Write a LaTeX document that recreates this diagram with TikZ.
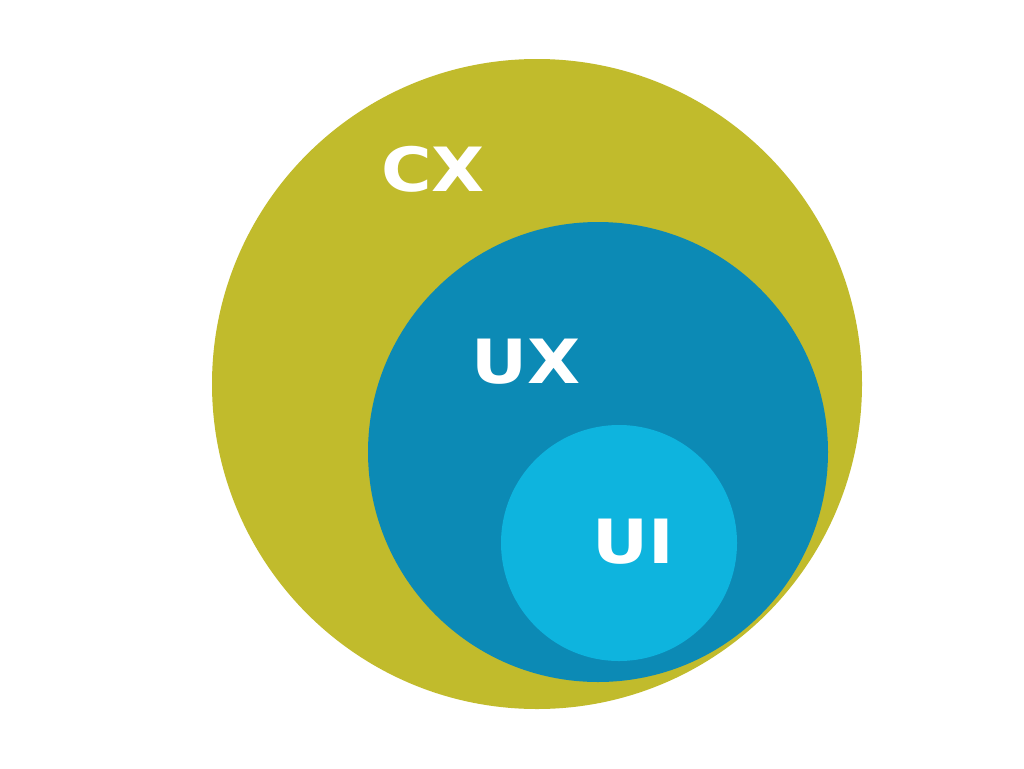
\documentclass[tikz,border=0pt]{standalone}
\usepackage{fontspec}
\newfontfamily\labfont{DejaVu Sans}[BoldFont={DejaVu Sans Bold}]
\definecolor{olive}{HTML}{C1BB2C}
\definecolor{uxblue}{HTML}{0C8AB5}
\definecolor{uiblue}{HTML}{0EB4DE}
\tikzset{
  disc/.style={circle, draw=none, inner sep=0pt, outer sep=0pt},
  lab/.style={anchor=base, text=white, inner sep=0pt, font=\labfont\bfseries\fontsize{61}{61}\selectfont, xscale=1.13, transform shape}
}
\begin{document}
\begin{tikzpicture}[x=1pt, y=-1pt]
\useasboundingbox (0,0) rectangle (1024,768);
\fill[white] (0,0) rectangle (1024,768);
\node[disc, fill=olive, minimum size=650pt] (cx) at (537,384) {};
\node[disc, fill=uxblue, minimum size=460pt] (ux) at (598,452) {};
\node[disc, fill=uiblue, minimum size=236pt] (ui) at (619,543) {};
\node[lab] (cxl) at (433,191) {CX};
\node[lab] (uxl) at (526,383) {UX};
\node[lab] (uil) at (633,563) {UI};
\end{tikzpicture}
\end{document}
